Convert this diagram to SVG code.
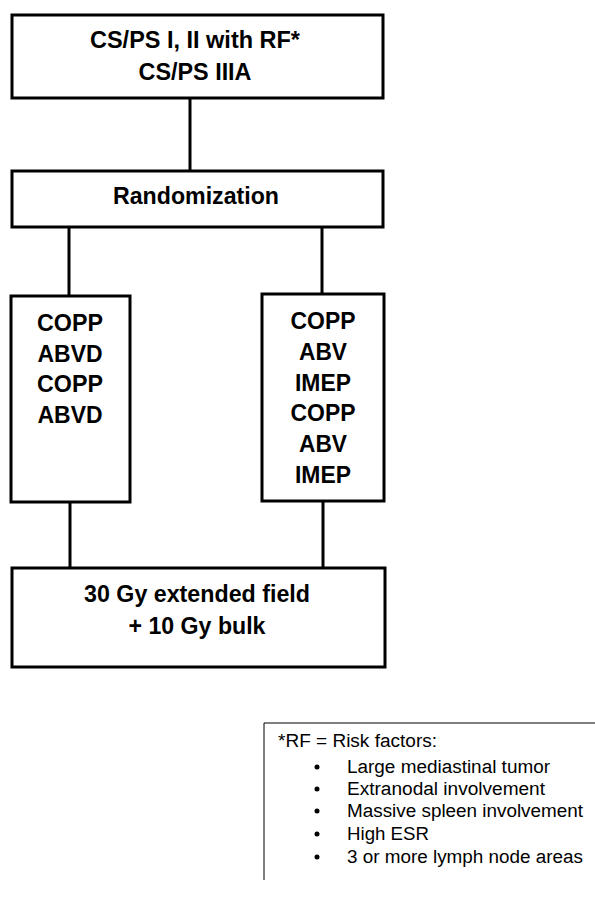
<svg xmlns="http://www.w3.org/2000/svg" width="595" height="908" viewBox="0 0 595 908">
<style>
.box{fill:#fff;stroke:#000;stroke-width:3}
.conn{stroke:#000;stroke-width:3;fill:none}
.b{font-family:"Liberation Sans",Arial,sans-serif;font-weight:bold;font-size:24.5px;fill:#000;text-anchor:middle}
.l{font-family:"Liberation Sans",Arial,sans-serif;font-size:18px;fill:#000}
</style>
<rect width="595" height="908" fill="#fff"/>
<g id="connectors">
<line class="conn" x1="190" y1="98" x2="190" y2="171"/>
<line class="conn" x1="69" y1="227" x2="69" y2="296"/>
<line class="conn" x1="322" y1="227" x2="322" y2="294"/>
<line class="conn" x1="70" y1="502" x2="70" y2="568"/>
<line class="conn" x1="323" y1="501" x2="323" y2="568"/>
</g>
<g id="node-entry">
<rect class="box" x="12" y="15" width="371" height="83"/>
<text class="b" x="195" y="48" textLength="210" lengthAdjust="spacingAndGlyphs">CS/PS I, II with RF*</text>
<text class="b" x="195" y="80" textLength="113" lengthAdjust="spacingAndGlyphs">CS/PS IIIA</text>
</g>
<g id="node-randomization">
<rect class="box" x="12" y="171" width="371" height="56"/>
<text class="b" x="196" y="204" textLength="166" lengthAdjust="spacingAndGlyphs">Randomization</text>
</g>
<g id="node-arm-a">
<rect class="box" x="11" y="296" width="119" height="206"/>
<text class="b" x="70" y="331" textLength="66" lengthAdjust="spacingAndGlyphs">COPP</text>
<text class="b" x="70" y="362" textLength="65" lengthAdjust="spacingAndGlyphs">ABVD</text>
<text class="b" x="70" y="392" textLength="66" lengthAdjust="spacingAndGlyphs">COPP</text>
<text class="b" x="70" y="423" textLength="65" lengthAdjust="spacingAndGlyphs">ABVD</text>
</g>
<g id="node-arm-b">
<rect class="box" x="262" y="294" width="122" height="207"/>
<text class="b" x="323" y="329" textLength="65" lengthAdjust="spacingAndGlyphs">COPP</text>
<text class="b" x="323" y="360" textLength="48" lengthAdjust="spacingAndGlyphs">ABV</text>
<text class="b" x="323" y="391" textLength="56" lengthAdjust="spacingAndGlyphs">IMEP</text>
<text class="b" x="323" y="421" textLength="65" lengthAdjust="spacingAndGlyphs">COPP</text>
<text class="b" x="323" y="452" textLength="48" lengthAdjust="spacingAndGlyphs">ABV</text>
<text class="b" x="323" y="483" textLength="56" lengthAdjust="spacingAndGlyphs">IMEP</text>
</g>
<g id="node-radiotherapy">
<rect class="box" x="12" y="568" width="373" height="99"/>
<text class="b" x="197" y="602" textLength="226" lengthAdjust="spacingAndGlyphs">30 Gy extended field</text>
<text class="b" x="197" y="634" textLength="137" lengthAdjust="spacingAndGlyphs">+ 10 Gy bulk</text>
</g>
<g id="legend">
<path d="M264 880 V723 H595" fill="none" stroke="#000" stroke-width="1"/>
<text class="l" x="278" y="747" textLength="159" lengthAdjust="spacingAndGlyphs">*RF = Risk factors:</text>
<circle cx="317" cy="767" r="2.5"/>
<text class="l" x="347" y="773" textLength="203" lengthAdjust="spacingAndGlyphs">Large mediastinal tumor</text>
<circle cx="317" cy="789" r="2.5"/>
<text class="l" x="347" y="795" textLength="198" lengthAdjust="spacingAndGlyphs">Extranodal involvement</text>
<circle cx="317" cy="811" r="2.5"/>
<text class="l" x="347" y="817" textLength="236" lengthAdjust="spacingAndGlyphs">Massive spleen involvement</text>
<circle cx="317" cy="834" r="2.5"/>
<text class="l" x="347" y="840" textLength="82" lengthAdjust="spacingAndGlyphs">High ESR</text>
<circle cx="317" cy="857" r="2.5"/>
<text class="l" x="347" y="863" textLength="236" lengthAdjust="spacingAndGlyphs">3 or more lymph node areas</text>
</g>
</svg>
